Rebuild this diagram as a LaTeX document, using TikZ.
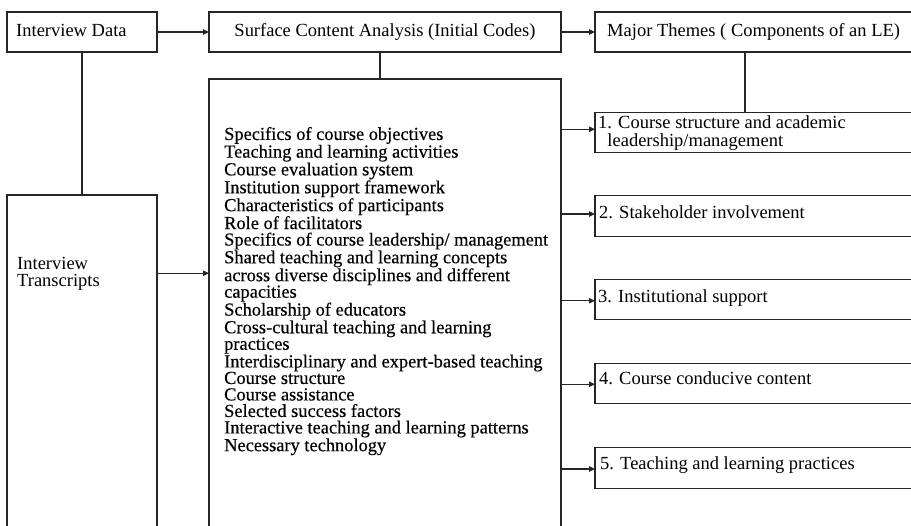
\documentclass[tikz,border=0pt]{standalone}
\usepackage{fontspec}
\setmainfont{Liberation Serif}
\newfontfamily\codesfont[FakeBold=0.35]{Liberation Serif}
\usetikzlibrary{arrows.meta}
\begin{document}
\begin{tikzpicture}[x=1pt,y=-1pt,
  frame/.style={draw=black!85, line width=1.1pt, rectangle, inner sep=0pt, outer sep=0pt, anchor=north west},
  lbl/.style={inner sep=0pt, font=\fontsize{18.5}{17.5}\selectfont, text=black},
  link/.style={draw=black!85, line width=1.1pt},
  flow/.style={link, -{Triangle[length=6pt,width=5.5pt]}},
]
\useasboundingbox (0,0) rectangle (911,526);
\clip (0,0) rectangle (911,526);

% top row
\node[frame, minimum width=150pt, minimum height=40pt] (data) at (7,12) {};
\node[lbl, anchor=base west] (datat) at (16,36.5) {Interview Data};

\node[frame, minimum width=352pt, minimum height=40pt] (sca) at (209,12) {};
\node[lbl, anchor=base] (scat) at (385,36.5) {Surface Content Analysis (Initial Codes)};

\node[frame, minimum width=330pt, minimum height=40pt] (themes) at (595,12) {};
\node[lbl, anchor=base west] (themest) at (607,36.5) {Major Themes ( Components of an LE)};

% transcripts column
\node[frame, minimum width=150pt, minimum height=340pt] (trans) at (7,195) {};
\node[lbl, anchor=north west, align=left] (transt) at (17,256.8) {Interview\\Transcripts};

% initial codes
\node[frame, minimum width=352pt, minimum height=460pt] (codes) at (209,79) {};
\node[lbl, anchor=north west, align=left, font=\codesfont\fontsize{18.4}{16.5}\selectfont] (codest) at (224,126.8) {%
Specifics of course objectives\\
Teaching and learning activities\\
Course evaluation system\\
Institution support framework\\
Characteristics of participants\\
Role of facilitators\\
Specifics of course leadership/ management\\
Shared teaching and learning concepts\\
across diverse disciplines and different\\
capacities\\
Scholarship of educators\\
Cross-cultural teaching and learning\\
practices\\
Interdisciplinary and expert-based teaching\\
Course structure\\
Course assistance\\
Selected success factors\\
Interactive teaching and learning patterns\\
Necessary technology};

% major themes
\node[frame, minimum width=330pt, minimum height=40.5pt] (t1) at (595,112.3) {};
\node[frame, minimum width=330pt, minimum height=40.5pt] (t2) at (595,195.7) {};
\node[frame, minimum width=330pt, minimum height=40.5pt] (t3) at (595,279.3) {};
\node[frame, minimum width=330pt, minimum height=40.5pt] (t4) at (595,363.3) {};
\node[frame, minimum width=330pt, minimum height=41pt] (t5) at (595,447.7) {};

\node[lbl, anchor=north west, align=left] (t1t) at (598,115.7) {1. Course structure and academic\\\hspace*{9.25pt}leadership/management};
\node[lbl, anchor=base west] (t2t) at (599,218.3) {2. Stakeholder involvement};
\node[lbl, anchor=base west] (t3t) at (598,302.3) {3. Institutional support};
\node[lbl, anchor=base west] (t4t) at (599,385) {4. Course conducive content};
\node[lbl, anchor=base west] (t5t) at (600,470) {5. Teaching and learning practices};

% connector levels
\coordinate (tlev) at (0,273.3);
\coordinate (scadrop) at (380,0);
\coordinate (thdrop) at (745,0);
\coordinate (lv1) at (0,129.3);
\coordinate (lv2) at (0,214);
\coordinate (lv3) at (0,300.7);
\coordinate (lv4) at (0,384.3);
\coordinate (lv5) at (0,469);

% connectors
\draw[flow] (data) -- (sca);
\draw[flow] (sca) -- (themes);
\draw[link] (data.south) -- (trans.north);
\draw[flow] (trans.east |- tlev) -- (codes.west |- tlev);
\draw[link] (sca.south -| scadrop) -- (codes.north -| scadrop);
\draw[link] (themes.south -| thdrop) -- (t1.north -| thdrop);
\draw[flow] (codes.east |- lv1) -- (t1.west |- lv1);
\draw[flow] (codes.east |- lv2) -- (t2.west |- lv2);
\draw[flow] (codes.east |- lv3) -- (t3.west |- lv3);
\draw[flow] (codes.east |- lv4) -- (t4.west |- lv4);
\draw[flow] (codes.east |- lv5) -- (t5.west |- lv5);
\end{tikzpicture}
\end{document}
